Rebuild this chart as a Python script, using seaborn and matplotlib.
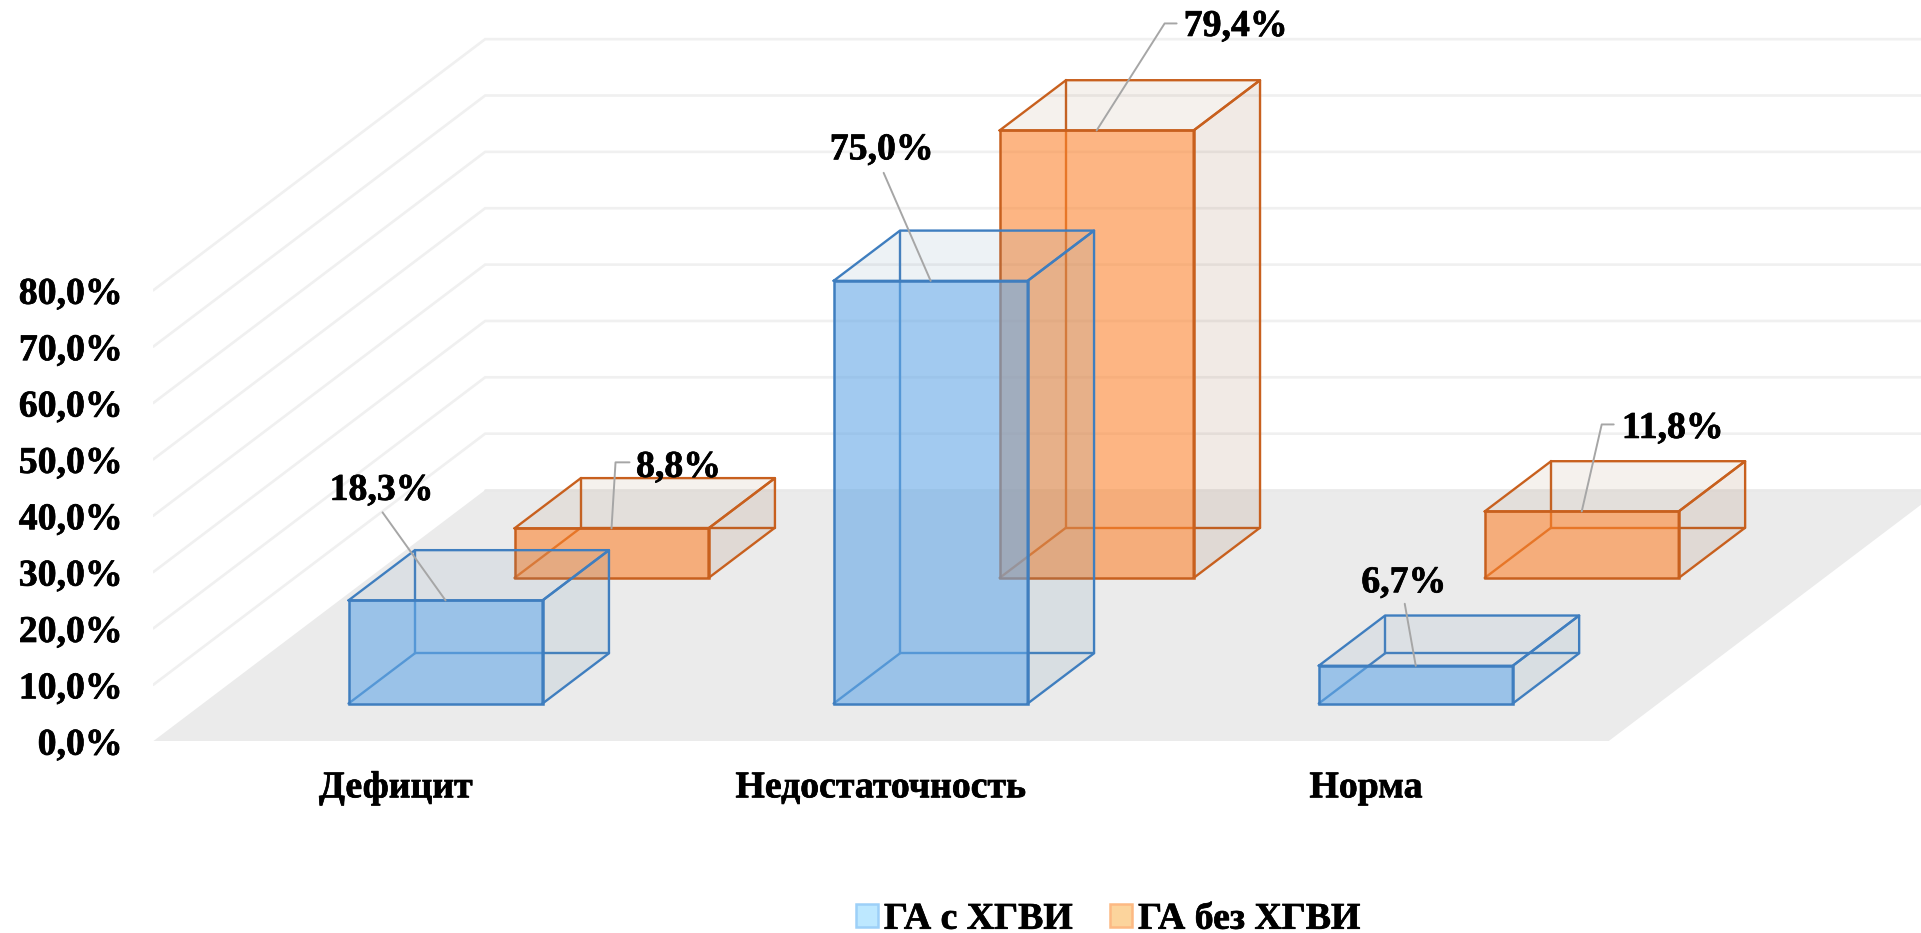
import matplotlib
matplotlib.use("Agg")
import matplotlib.pyplot as plt
import matplotlib.patheffects as pe
from matplotlib.patches import Patch
import numpy as np
import seaborn as sns

# Chart values
categories = ["Дефицит", "Недостаточность", "Норма"]
series_names = ["ГА с ХГВИ", "ГА без ХГВИ"]
values_with = [18.3, 75.0, 6.7]
values_without = [8.8, 79.4, 11.8]
y_ticks = [0, 10, 20, 30, 40, 50, 60, 70, 80]

# Leader lines and label centres, as pixel offsets from each bar's top front edge
leaders_with = [[(-63, 88)], [(-47, 108)], [(-11, 62)]]
leaders_without = [[(4, 66), (18, 66)], [(68, 107), (80, 107)], [(20, 87), (32, 87)]]
text_with = [(-64, 110), (-49, 131), (-12, 83)]
text_without = [(67, 61), (139, 104), (91, 83)]

# Oblique projection: one unit of depth moves a point right and up
W, H = 1921, 933
X0, Y0 = 153.2, 741.2      # pixel position of the floor's front-left corner
UX, UY = 485.1, 5.636      # pixels per category and per percent
SHEAR_X, SHEAR_Y = 0.6843, 44.565
DEPTH_RANGE = {"with": (0.15, 0.35), "without": (0.65, 0.85)}
BAR_W = 0.4

STYLE = {
    "with": dict(front=(100/255, 168/255, 230/255, 0.6), edge="#3F7EBF",
                 top=(115/255, 150/255, 180/255, 0.12), side=(108/255, 150/255, 175/255, 0.15)),
    "without": dict(front=(252/255, 133/255, 48/255, 0.6), edge="#C8601E",
                    top=(163/255, 122/255, 80/255, 0.10), side=(148/255, 88/255, 48/255, 0.12)),
}

FS = 27.2
BOLDER = [pe.withStroke(linewidth=0.5, foreground="black")]
sns.set_theme(style="white")
plt.rcParams["font.family"] = ["Liberation Serif", "DejaVu Serif"]
plt.rcParams["font.weight"] = "bold"

fig = plt.figure(figsize=(W / 100, H / 100), dpi=100, facecolor="white")
ax = fig.add_axes([X0 / W, 1 - Y0 / H, 1 - X0 / W, Y0 / H])
ax.set_facecolor("none")


def proj(x, d, v):
    """Project category position x, depth d and value v onto the chart plane."""
    return x + SHEAR_X * d, v + SHEAR_Y * d


# Floor and wall gridlines
fx = [0, 3, 3 + SHEAR_X, SHEAR_X]
fy = [0, 0, SHEAR_Y, SHEAR_Y]
ax.fill(fx, fy, color="#EBEBEB", lw=0, zorder=1)
for t in y_ticks[1:]:
    ax.plot([0, SHEAR_X, 4], [t, t + SHEAR_Y, t + SHEAR_Y], color="#F0F0F0", lw=1.9, zorder=1.5,
            solid_joinstyle="miter")
ax.plot([SHEAR_X, 4], [SHEAR_Y, SHEAR_Y], color="#E9E9E9", lw=1.9, zorder=1.5)


def draw_series(key, values, z):
    d0, d1 = DEPTH_RANGE[key]
    s = STYLE[key]
    lk = dict(color=s["edge"], lw=1.7, solid_capstyle="round", solid_joinstyle="round")
    for i, v in enumerate(values):
        x0, x1 = i + 0.5 - BAR_W / 2, i + 0.5 + BAR_W / 2
        # hidden edges behind the front face
        for a, b in [((x0, d1, 0), (x1, d1, 0)), ((x0, d1, 0), (x0, d1, v)), ((x0, d0, 0), (x0, d1, 0))]:
            pa, pb = proj(*a), proj(*b)
            ax.plot([pa[0], pb[0]], [pa[1], pb[1]], zorder=z, **lk)
        # top and right side
        top = [proj(x0, d0, v), proj(x1, d0, v), proj(x1, d1, v), proj(x0, d1, v)]
        side = [proj(x1, d0, 0), proj(x1, d1, 0), proj(x1, d1, v), proj(x1, d0, v)]
        ax.fill(*zip(*top), facecolor=s["top"], edgecolor="none", zorder=z + 0.1)
        ax.fill(*zip(*side), facecolor=s["side"], edgecolor="none", zorder=z + 0.1)
        for poly in (top + top[:1], side + side[:1]):
            ax.plot(*zip(*poly), zorder=z + 0.3, **lk)
    # front faces come from seaborn, on the sheared baseline of this series
    n = len(ax.patches)
    positions = [i + 0.5 + SHEAR_X * d0 for i in range(len(values))]
    sns.barplot(x=positions, y=values, native_scale=True, width=BAR_W, errorbar=None,
                color=s["front"][:3], saturation=1, bottom=SHEAR_Y * d0, ax=ax)
    for p in ax.patches[n:]:
        p.set_facecolor(s["front"])
        p.set_edgecolor(s["edge"])
        p.set_linewidth(1.8)
        p.set_zorder(z + 0.2)


draw_series("without", values_without, 3)
draw_series("with", values_with, 4)


def pct(v):
    return f"{v:.1f}%".replace(".", ",")


def annotate_series(key, values, leaders, texts):
    d0 = DEPTH_RANGE[key][0]
    for i, v in enumerate(values):
        ax_, ay_ = proj(i + 0.5, d0, v)
        pts = [(ax_, ay_)] + [(ax_ + dx / UX, ay_ + dy / UY) for dx, dy in leaders[i]]
        ax.plot(*zip(*pts), color="#A6A6A6", lw=1.4, zorder=6, clip_on=False)
        tx, ty = texts[i]
        ax.text(ax_ + tx / UX, ay_ + ty / UY, pct(v), ha="center", va="center", fontsize=FS,
                fontweight="bold", color="black", zorder=7, clip_on=False, path_effects=BOLDER)


annotate_series("with", values_with, leaders_with, text_with)
annotate_series("without", values_without, leaders_without, text_without)

# Axes
ax.set_xlim(0, (W - X0) / UX)
ax.set_ylim(0, Y0 / UY)
ax.set_xticks([i + 0.5 for i in range(len(categories))])
ax.set_xticklabels(categories, fontsize=FS, fontweight="bold", color="black", path_effects=BOLDER)
ax.set_yticks(y_ticks)
ax.set_yticklabels([pct(t) for t in y_ticks], fontsize=FS, fontweight="bold", color="black", path_effects=BOLDER)
ax.tick_params(axis="x", length=0, pad=21)
ax.tick_params(axis="y", length=0, pad=22)
ax.set_xlabel("")
ax.set_ylabel("")
for sp in ax.spines.values():
    sp.set_visible(False)

# Legend
handles = [
    Patch(facecolor="#BDE8FF", edgecolor="#9DD0F8", lw=1.8, label=series_names[0]),
    Patch(facecolor="#FCD49C", edgecolor="#FDB983", lw=1.8, label=series_names[1]),
]
leg = fig.legend(handles=handles, loc="lower left", bbox_to_anchor=(856 / W, -0.004), ncol=2, frameon=False,
                 fontsize=FS, handlelength=0.58, handleheight=0.58, handletextpad=0.16, columnspacing=0.98,
                 borderpad=0, borderaxespad=0, labelcolor="black")
for t in leg.get_texts():
    t.set_path_effects(BOLDER)

fig.savefig("out.png", dpi=100, facecolor="white")
